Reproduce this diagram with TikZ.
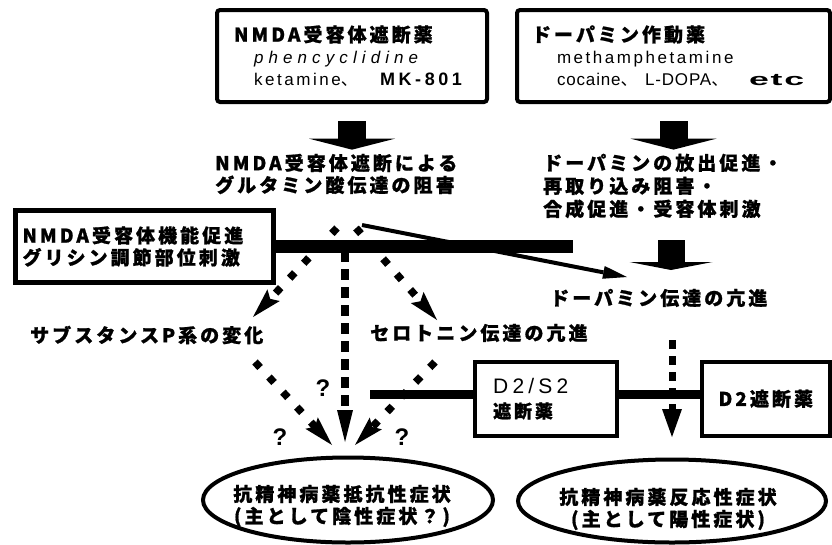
\documentclass[tikz,border=0pt]{standalone}
\usepackage{fontspec}
\setmainfont{Liberation Sans}
\newfontfamily\jp{Noto Sans CJK JP}[LetterSpace=16, BoldFeatures={FakeBold=1}]
\newfontfamily\jpn{Noto Sans CJK JP}
\newfontfamily\lat{Liberation Sans}[LetterSpace=15]
\usetikzlibrary{arrows.meta,shapes.geometric}
\newcommand\jpb{\jp\bfseries}
\tikzset{
  txt/.style={inner sep=0pt, align=left, font=\jpb\fontsize{19}{22}\selectfont},
  box/.style={draw, line width=4pt, inner sep=0pt},
  ell/.style={draw, ellipse, line width=4pt, inner sep=0pt},
  blk/.style={line width=28pt, -{Triangle[length=11pt,width=86pt,line width=0pt]}},
  dia/.style={line width=7.5pt, dash pattern=on 7.5pt off 13pt, -{Stealth[length=30pt,width=17pt,inset=5pt,line width=0pt]}},
  vdash/.style={line width=8pt, dash pattern=on 11pt off 7pt, -{Triangle[length=32pt,width=16pt,line width=0pt]}},
  bar/.style={line width=13pt},
  bar2/.style={line width=9pt},
  thin/.style={line width=4pt, -{Triangle[length=24pt,width=13pt,line width=0pt]}},
  qm/.style={inner sep=0pt, font=\bfseries\fontsize{24}{24}\selectfont}
}
\begin{document}
\begin{tikzpicture}[x=1pt,y=-1pt]
\useasboundingbox (0,0) rectangle (832,544);
% top boxes
\node[box, rounded corners=3pt, anchor=north west, minimum width=270pt, minimum height=92pt,
      text width=236pt, inner xsep=17pt, align=left, font=\fontsize{19}{22}\selectfont] (b1) at (215,8)
  {{\jpb NMDA受容体遮断薬}\\
   \hspace*{20pt}{\lat\itshape\fontsize{17}{22}\selectfont\addfontfeature{LetterSpace=30}phencyclidine}\\
   \hspace*{20pt}{\lat\fontsize{17}{22}\selectfont\makebox[126pt][l]{ketamine{\jpn 、}}{\bfseries\fontsize{18}{22}\selectfont\addfontfeature{LetterSpace=20}MK-801}}};
\node[box, rounded corners=3pt, anchor=north west, minimum width=313pt, minimum height=92pt,
      text width=283pt, inner xsep=15pt, align=left, font=\fontsize{19}{22}\selectfont] (b2) at (515,8)
  {{\jpb ドーパミン作動薬}\\
   \hspace*{25pt}{\lat\fontsize{17}{22}\selectfont methamphetamine}\\
   \hspace*{25pt}{\lat\fontsize{17}{22}\selectfont\addfontfeature{LetterSpace=5}\makebox[88pt][l]{cocaine{\jpn 、}}\makebox[104pt][l]{L-DOPA{\jpn 、}}\scalebox{2.1}[1]{\bfseries etc}}};
% middle texts
\node[txt, anchor=west] (t1) at (215,174) {NMDA受容体遮断による\\グルタミン酸伝達の阻害};
\node[txt, anchor=west, font=\jpb\fontsize{19}{23}\selectfont] (t2) at (543,186) {ドーパミンの放出促進・\\再取り込み阻害・\\合成促進・受容体刺激};
\draw[blk, shorten >=4pt] ([yshift=-17pt]b1.south) -- (b1.south |- t1.north);
\draw[blk, shorten >=4pt] ([yshift=-17pt]b2.south) -- (b2.south |- t2.north);
% NMDA function box and bar
\node[box, line width=5pt, anchor=north west, minimum width=258pt, minimum height=72pt,
      text width=244pt, inner xsep=7pt, align=left, font=\jpb\fontsize{19}{22}\selectfont] (b3) at (13,208)
  {NMDA受容体機能促進\\グリシン調節部位刺激};
\draw[bar] (b3.east) -- ++(297,0) coordinate (bare);
% texts
\node[txt, anchor=west] (sub) at (30,335) {サブスタンスP系の変化};
\node[txt, anchor=west] (sero) at (370,333) {セロトニン伝達の亢進};
\node[txt, anchor=west] (dat) at (550,298) {ドーパミン伝達の亢進};
% third block arrow
\coordinate (a3s) at (671,240);
\coordinate (a3e) at (671,270);
\draw[line width=27pt, -{Triangle[length=8pt,width=83pt,line width=0pt]}] (a3s) -- (a3e);
% dashed arrows from bar
\coordinate (dl) at (337,228);
\coordinate (dr) at (356,228);
\coordinate (tipL) at (253,317);
\coordinate (tipR) at (437,320);
\coordinate (vt) at (345,251);
\coordinate (vb) at (345,442);
\draw[dia] (dl) -- (tipL);
\draw[dia] (dr) -- (tipR);
\draw[vdash] (vt) -- (vb);
% thin arrow
\coordinate (ts) at (362,225);
\coordinate (te) at (627,277);
\draw[thin] (ts) -- (te);
% lower diagonal arrows
\coordinate (ls) at (255,362);
\coordinate (le) at (332,445);
\coordinate (rs) at (435,362);
\coordinate (re) at (355,445);
% D2 boxes
\node[box, line width=3.5pt, anchor=north west, minimum width=142pt, minimum height=74pt] (d2s2) at (473,360) {};
\node[inner sep=0pt, anchor=west, font=\lat\fontsize{21}{21}\selectfont\addfontfeature{LetterSpace=20}] (d2s2a) at (493,386) {D2/S2};
\node[inner sep=0pt, anchor=west, font=\jpb\fontsize{18}{18}\selectfont] (d2s2b) at (493,411) {遮断薬};
\node[box, line width=3.5pt, anchor=north west, minimum width=128pt, minimum height=74pt,
      font=\jpb\fontsize{19}{22}\selectfont] (d2) at (700,360) {D2遮断薬};
\coordinate (bl2) at (370,394);
\draw[bar2] (bl2) -- (bl2 -| d2s2.west);
\draw[bar2] (d2s2.east |- bl2) -- (d2.west |- bl2);
\draw[dia] (ls) -- (le);
\draw[dia] (rs) -- (re);
\coordinate (v2t) at (672,340);
\coordinate (v2b) at (672,437);
\draw[line width=7pt, dash pattern=on 9pt off 7pt, -{Triangle[length=28pt,width=20pt,line width=0pt]}] (v2t) -- (v2b);
% question marks
\node[qm] (q1) at (323,388) {?};
\node[qm] (q2) at (280,437) {?};
\node[qm] (q3) at (402,437) {?};
% ellipses
\node[ell, minimum width=290pt, minimum height=85pt] (e1) at (348,500) {};
\node[txt, align=center] (e1t) at (342,506) {抗精神病薬抵抗性症状\\(主として陰性症状？)};
\node[ell, minimum width=308pt, minimum height=83pt] (e2) at (672,501) {};
\node[txt, align=center] (e2t) at (668,509) {抗精神病薬反応性症状\\(主として陽性症状)};
\end{tikzpicture}
\end{document}
